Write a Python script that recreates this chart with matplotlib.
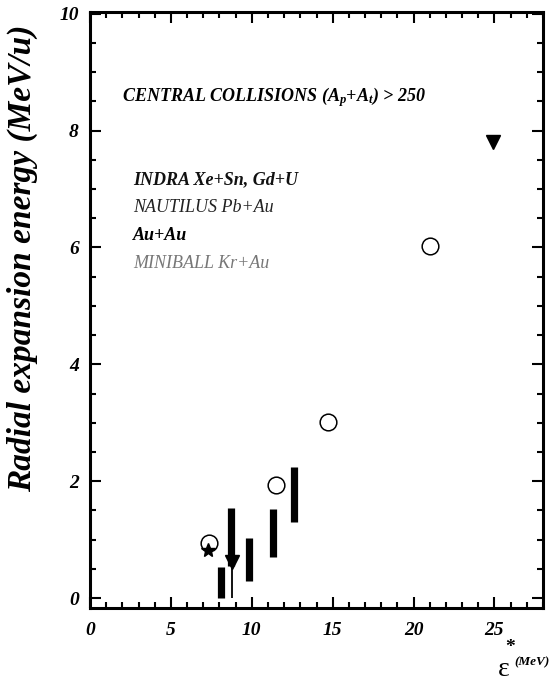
import numpy as np
import matplotlib.pyplot as plt
from matplotlib.ticker import MultipleLocator

# open circles
circ_x = [7.35, 11.5, 14.7, 21.0]
circ_y = [0.94, 1.93, 3.01, 6.03]

# star
star_x = [7.3]
star_y = [0.82]

# filled down triangles
tri_x = [8.8, 24.9]
tri_y = [0.62, 7.8]

# thick range bars
bar_x = [8.1, 8.7, 9.8, 11.3, 12.6]
bar_lo = [0.0, 0.55, 0.29, 0.70, 1.30]
bar_hi = [0.53, 1.54, 1.03, 1.52, 2.24]

legend_lines = ["INDRA Xe+Sn, Gd+U", "NAUTILUS Pb+Au", "Au+Au", "MINIBALL Kr+Au"]

plt.rcParams['font.family'] = ['Liberation Serif', 'DejaVu Serif']
plt.rcParams['mathtext.fontset'] = 'custom'
plt.rcParams['mathtext.rm'] = 'Liberation Serif:bold:italic'
plt.rcParams['mathtext.bf'] = 'Liberation Serif:bold:italic'
plt.rcParams['mathtext.it'] = 'Liberation Serif:bold:italic'

fig = plt.figure(figsize=(5.53, 6.91), dpi=100)
ax = fig.add_axes([90/553, 1 - 608/691, 453/553, 596/691])

ax.vlines(bar_x, bar_lo, bar_hi, colors='k', linewidth=5.2)
ax.vlines([tri_x[0]], 0.0, tri_y[0], colors='k', linewidth=1.3)
ax.plot(tri_x, tri_y, linestyle='none', marker='v', color='k', markersize=10)
ax.plot(circ_x, circ_y, linestyle='none', marker='o', markerfacecolor='none',
        markeredgecolor='k', markersize=12, markeredgewidth=1.1)
ax.plot(star_x, star_y, linestyle='none', marker='*', color='k', markersize=10)

ax.set_xlim(0, 28)
ax.set_ylim(-0.17, 10.03)
ax.xaxis.set_major_locator(MultipleLocator(5))
ax.xaxis.set_minor_locator(MultipleLocator(1))
ax.yaxis.set_major_locator(MultipleLocator(2))
ax.yaxis.set_minor_locator(MultipleLocator(0.5))
ax.tick_params(which='both', direction='in', top=True, right=True, width=1.5)
ax.tick_params(which='major', length=8)
ax.tick_params(axis='y', which='major', pad=8)
ax.tick_params(axis='x', which='major', pad=10)
ax.tick_params(which='minor', length=4.5)
for lab in ax.get_xticklabels() + ax.get_yticklabels():
    lab.set_fontweight('bold')
    lab.set_fontstyle('italic')
    lab.set_fontsize(14)
for s in ax.spines.values():
    s.set_linewidth(2.2)

ax.text(0.071, 0.858, r"CENTRAL COLLISIONS (A$_p$+A$_t$) > 250",
        transform=ax.transAxes, fontsize=13, fontweight='bold', fontstyle='italic',
        va='center', ha='left')

styles = [('bold', '#111111'), ('normal', '#222222'), ('bold', '#000000'), ('normal', '#777777')]
ys = [180, 208, 236, 264]
for txt, (w, c), yp in zip(legend_lines, styles, ys):
    fig.text(133/553, 1 - yp/691, txt, fontsize=13, fontweight=w, fontstyle='italic',
             color=c, va='center', ha='left')

fig.text(22/553, 1 - 258/691, "Radial expansion energy (MeV/u)", rotation=90,
         fontsize=24, fontweight='bold', fontstyle='italic', va='center', ha='center')
fig.text(504/553, 1 - 670/691, "ε", fontsize=20, va='center', ha='center')
fig.text(510/553, 1 - 648/691, "*", fontsize=14, fontweight='bold', va='center', ha='center')
fig.text(532/553, 1 - 662/691, "(MeV)", fontsize=9.5, fontweight='bold', fontstyle='italic',
         va='center', ha='center')

fig.savefig("out.png", dpi=100)
